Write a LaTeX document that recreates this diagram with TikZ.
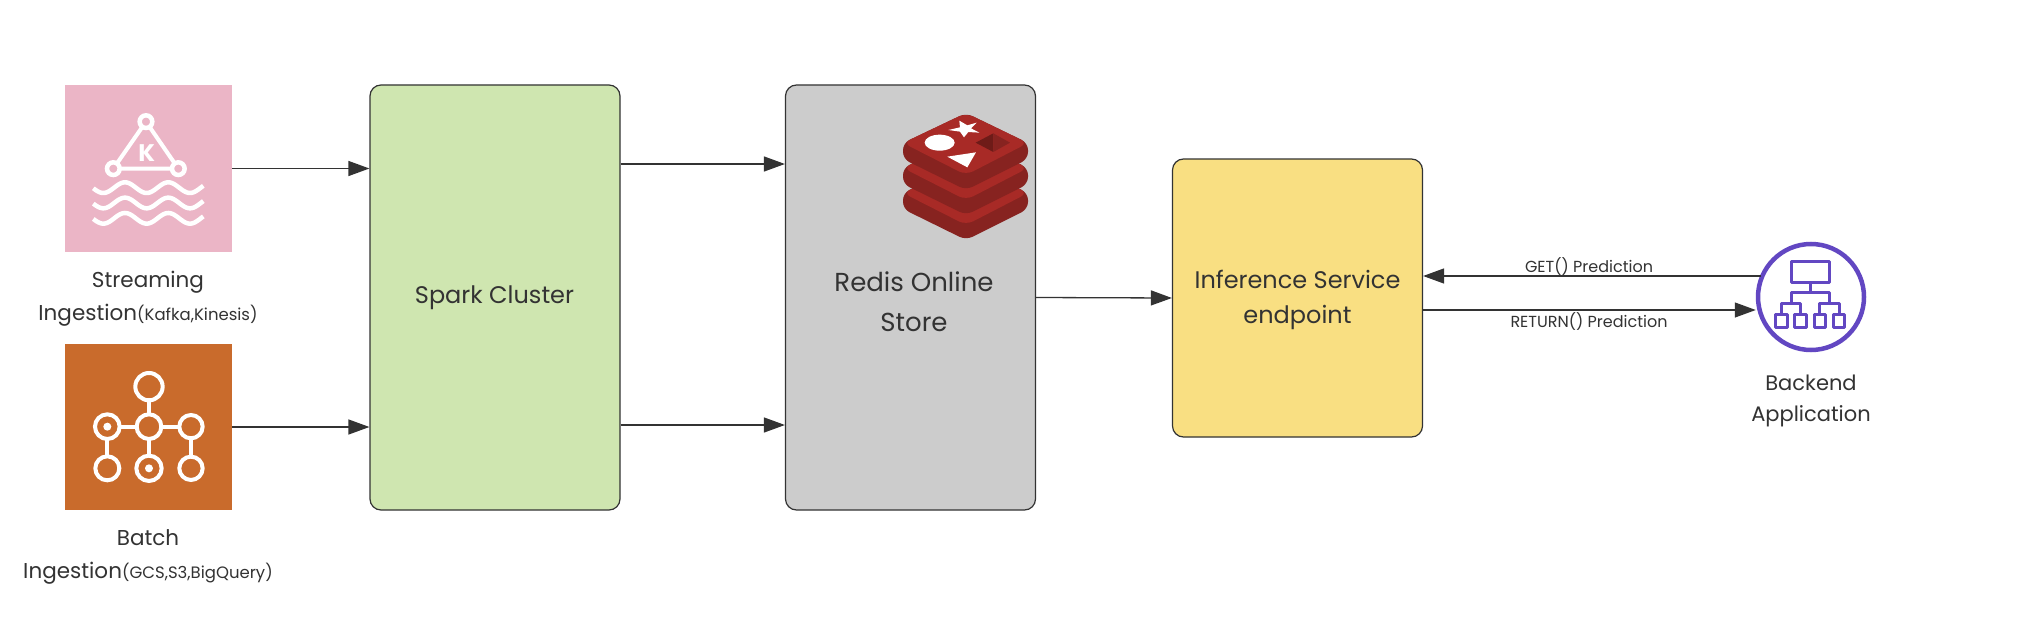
\documentclass[tikz,border=0pt]{standalone}
\usepackage{fontspec}
\setmainfont{Poppins}
\usetikzlibrary{arrows.meta,calc}
\definecolor{ink}{HTML}{333333}
\definecolor{pinkbg}{HTML}{EBB5C6}
\definecolor{orangebg}{HTML}{C96B2C}
\definecolor{greenbg}{HTML}{CFE6B0}
\definecolor{greybg}{HTML}{CCCCCC}
\definecolor{yellowbg}{HTML}{F9DF82}
\definecolor{purp}{HTML}{6247C2}
\definecolor{redtop}{HTML}{A82A26}
\definecolor{redside}{HTML}{872320}
\definecolor{reddark}{HTML}{6E1B18}
\newcommand{\bigfont}{\fontsize{24}{35}\selectfont}
\newcommand{\redisfont}{\fontsize{26}{40}\selectfont}
\newcommand{\midfont}{\fontsize{21.5}{33}\selectfont}
\newcommand{\appfont}{\fontsize{21}{31}\selectfont}
\newcommand{\subfont}{\fontsize{16.5}{20}\selectfont}
\newcommand{\labfont}{\fontsize{16}{19}\selectfont}
\newcommand{\redislayer}[1]{%
  \fill[redside,rounded corners=7pt] (903,143+#1) -- (966,113+#1) -- (1028,143+#1) -- (1028,159+#1) -- (966,190+#1) -- (903,159+#1) -- cycle;
  \fill[redtop,rounded corners=8pt] (903,143+#1) -- (966,113+#1) -- (1028,143+#1) -- (966,175+#1) -- cycle;}
\tikzset{
  x=1pt,y=-1pt,
  box/.style={draw=ink,line width=1.2pt,rounded corners=11pt,minimum width=250pt,inner sep=0pt,text=ink},
  tile/.style={minimum width=167pt,minimum height=167pt,inner sep=0pt},
  txt/.style={text=ink,align=center,inner sep=0pt},
  conn/.style={draw=ink,line width=1.3pt,-{Triangle[length=21pt,width=15pt,fill=ink]}},
  icon/.style={draw=white,line width=4pt,line cap=round},
  netline/.style={draw=purp,line width=3pt,line join=round}
}
\begin{document}
\begin{tikzpicture}
\useasboundingbox (0,0) rectangle (2022,634);
\fill[white] (0,0) rectangle (2022,634);
% tiles and boxes
\node[tile,fill=pinkbg] (kafka) at (148.5,168.5) {};
\node[tile,fill=orangebg,minimum height=166pt] (batch) at (148.5,427) {};
\node[box,fill=greenbg,minimum height=425pt] (spark) at (495,297.5) {};
\node[box,fill=greybg,minimum height=425pt] (redis) at (910.5,297.5) {};
\node[box,fill=yellowbg,minimum height=278pt] (infer) at (1297.5,298) {};
\node[circle,draw=purp,line width=4.5pt,fill=white,minimum size=106pt,inner sep=0pt] (app) at (1811,297) {};
% kafka icon
\begin{scope}[shift={(40,70)},x=0.3333pt,y=-0.3333pt]
  \draw[white,line width=4pt] (318,155) -- (220,296) -- (415,296) -- cycle;
  \foreach \px/\py in {318/155,220/296,415/296}
    \draw[white,line width=4.5pt,fill=pinkbg] (\px,\py) circle (19);
  \node[white,inner sep=0pt,font=\fontsize{24}{24}\selectfont\bfseries] (kletter) at (320,248) {K};
  \foreach \wy in {0,46,92}
    \draw[white,line width=4.5pt] plot[smooth,domain=160:490,samples=67] (\x,{353+\wy+16*cos((\x-320)*2.76923)});
\end{scope}
% batch icon
\begin{scope}[shift={(40,330)},x=0.3333pt,y=-0.3333pt]
  \draw[icon] (327,210) -- (327,252) (240,290) -- (290,290) (365,290) -- (416,290)
     (202,328) -- (202,378) (327,328) -- (327,376) (453,328) -- (453,378);
  \foreach \px/\py/\pr in {327/170/41,202/290/37,327/290/37,453/290/35,202/415/36,327/415/38,453/415/35}
    \draw[white,line width=4pt] (\px,\py) circle (\pr);
  \fill[white] (202,290) circle (12) (327,415) circle (12);
\end{scope}
% redis logo
\redislayer{50}
\redislayer{25}
\redislayer{0}
\begin{scope}[shift={(860,110)},x=0.3333pt,y=-0.3333pt]
  \fill[white] (239,98) ellipse (45 and 24);
  \fill[white] (262,140) -- (348,127) -- (322,172) -- cycle;
  \fill[white] (265,60) -- (300,52) -- (298,32) -- (322,46) -- (350,38) -- (333,55) -- (358,68) -- (325,66) -- (312,82) -- (300,65) -- cycle;
  \fill[reddark] (347,98) -- (400,70) -- (400,126) -- cycle;
  \fill[redside] (400,70) -- (450,98) -- (400,126) -- cycle;
\end{scope}
% texts
\node[txt,font=\midfont] (kafkatext) at (148,299) {Streaming\\Ingestion{\subfont(Kafka,Kinesis)}};
\node[txt,font=\midfont] (batchtext) at (148,557) {Batch\\Ingestion{\subfont(GCS,S3,BigQuery)}};
\node[txt,font=\bigfont] (sparktext) at (494.5,298) {Spark Cluster};
\node[txt,font=\redisfont] (redistext) at (914,302) {Redis Online\\Store};
\node[txt,font=\bigfont] (infertext) at (1297.5,300) {Inference Service\\endpoint};
\node[txt,font=\appfont] (apptext) at (1811,401) {Backend\\Application};
% connectors
\coordinate (r1) at (spark.east |- 0,164);
\coordinate (r2) at (spark.east |- 0,425);
\coordinate (g2) at (infer.east |- 0,310);
\coordinate (g0) at (1761,276);
\draw[conn] (kafka.east) -- (spark.west |- kafka.east);
\draw[conn] (batch.east) -- (spark.west |- batch.east);
\draw[conn] (r1) -- (redis.west |- r1);
\draw[conn] (r2) -- (redis.west |- r2);
\draw[conn] (redis.east) -- (infer.west);
\draw[conn] (g0) -- (infer.east |- g0);
\draw[conn] (g2) -- (app.west |- g2);
\node[txt,font=\labfont] (getlab) at (1589,267) {GET() Prediction};
\node[txt,font=\labfont] (retlab) at (1589,322) {RETURN() Prediction};
% application icon
\begin{scope}[shift={(1420,220)},x=0.3333pt,y=-0.3333pt]
  \draw[netline] (1115,125) rectangle (1228,187);
  \draw[netline] (1172,187) -- (1172,218) (1115,250) -- (1115,218) -- (1228,218) -- (1228,250);
  \draw[netline] (1085,285) -- (1085,250) -- (1142,250) -- (1142,285);
  \draw[netline] (1200,285) -- (1200,250) -- (1258,250) -- (1258,285);
  \foreach \bx in {1085,1142,1200,1258}
    \draw[netline] (\bx-17,285) rectangle (\bx+17,322);
\end{scope}
\end{tikzpicture}
\end{document}
